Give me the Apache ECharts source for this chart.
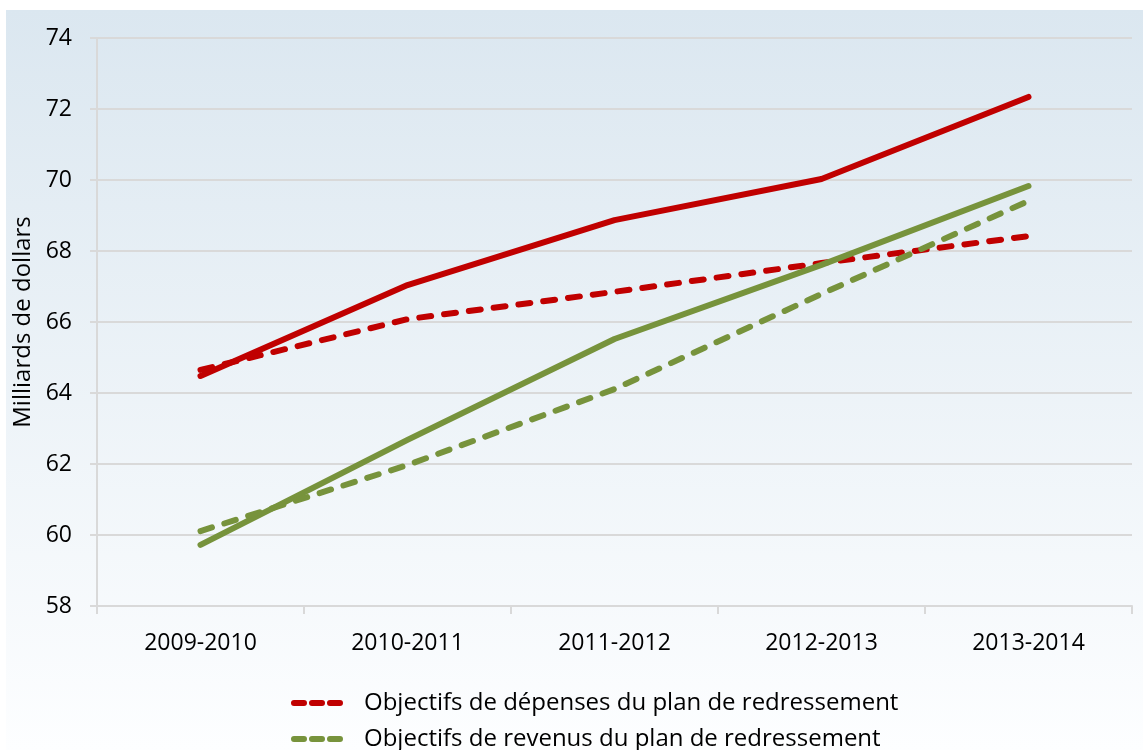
<!DOCTYPE html>
<html><head><meta charset="utf-8">
<script src="https://cdn.jsdelivr.net/npm/echarts@6/dist/echarts.min.js"></script>
<style>html,body{margin:0;padding:0;background:#fff;}#c{width:1143px;height:750px;}</style>
</head><body><div id="c"></div>
<script>
const categories = ['2009-2010','2010-2011','2011-2012','2012-2013','2013-2014'];
const depensesReel = [64.48, 67.04, 68.87, 70.03, 72.34];
const depensesObj = [64.65, 66.08, 66.85, 67.66, 68.42];
const revenusReel = [59.72, 62.68, 65.52, 67.61, 69.83];
const revenusObj = [60.11, 61.97, 64.11, 66.79, 69.41];
const nameDepObj = 'Objectifs de dépenses du plan de redressement';
const nameRevObj = 'Objectifs de revenus du plan de redressement';
const FONT = 'Open Sans';
const RED = '#C00000', GREEN = '#77933C';
const DASH_ICON = 'path://M3,0 H13 A3,3 0 0 1 13,6 H3 A3,3 0 0 1 3,0 Z M21,0 H31 A3,3 0 0 1 31,6 H21 A3,3 0 0 1 21,0 Z M39,0 H49 A3,3 0 0 1 49,6 H39 A3,3 0 0 1 39,0 Z';

const chart = echarts.init(document.getElementById('c'));
chart.setOption({
  animation: false,
  textStyle: {fontFamily: FONT},
  graphic: [{
    type: 'rect', z: -10, silent: true,
    shape: {x: 6, y: 10, width: 1137, height: 740},
    style: {fill: new echarts.graphic.LinearGradient(0, 0, 0, 1, [
      {offset: 0, color: '#DBE7F0'}, {offset: 1, color: '#FDFEFF'}])}
  }],
  grid: {left: 97, top: 38, right: 11, bottom: 144},
  legend: {
    data: [{name: nameDepObj, icon: DASH_ICON}, {name: nameRevObj, icon: DASH_ICON}],
    orient: 'vertical', left: 286, top: 686, height: 80,
    itemWidth: 52, itemHeight: 7, itemGap: 12,
    textStyle: {fontFamily: FONT, fontSize: 24, color: '#000', padding: [0, 0, 0, 16]}
  },
  xAxis: {
    type: 'category', data: categories, boundaryGap: true,
    axisLine: {lineStyle: {color: '#D9D9D9', width: 2}},
    axisTick: {show: true, length: 8, lineStyle: {color: '#D9D9D9', width: 2}},
    axisLabel: {fontFamily: FONT, fontSize: 23, color: '#000', margin: 26}
  },
  yAxis: {
    type: 'value', min: 58, max: 74, interval: 2,
    name: 'Milliards de dollars', nameLocation: 'middle', nameGap: 50, nameRotate: 90,
    nameTextStyle: {fontFamily: FONT, fontSize: 24, color: '#000'},
    axisLine: {show: true, lineStyle: {color: '#D9D9D9', width: 2}},
    axisTick: {show: true, length: 7, lineStyle: {color: '#D9D9D9', width: 2}},
    axisLabel: {fontFamily: FONT, fontSize: 23, color: '#000', margin: 25},
    splitLine: {lineStyle: {color: '#D9D9D9', width: 2}}
  },
  series: [
    {name: 'Dépenses', type: 'line', data: depensesReel, symbol: 'none',
     lineStyle: {color: RED, width: 6, cap: 'round', join: 'round'}, itemStyle: {color: RED}},
    {name: nameDepObj, type: 'line', data: depensesObj, symbol: 'none',
     lineStyle: {color: RED, width: 6, type: [12, 13], cap: 'round'}, itemStyle: {color: RED}},
    {name: 'Revenus', type: 'line', data: revenusReel, symbol: 'none',
     lineStyle: {color: GREEN, width: 6, cap: 'round', join: 'round'}, itemStyle: {color: GREEN}},
    {name: nameRevObj, type: 'line', data: revenusObj, symbol: 'none',
     lineStyle: {color: GREEN, width: 6, type: [12, 13], cap: 'round'}, itemStyle: {color: GREEN}}
  ]
});
</script></body></html>
